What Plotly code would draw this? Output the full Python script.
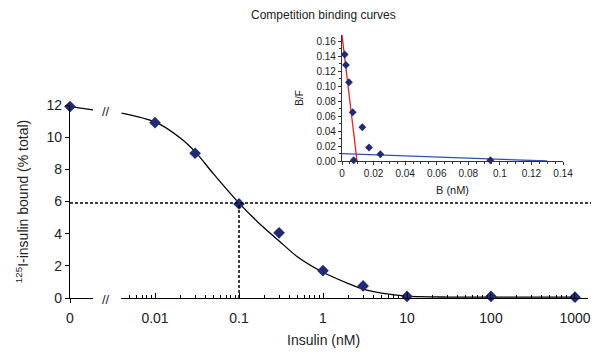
import plotly.graph_objects as go

# ---- main competition curve data ----
zero_x = [0]
zero_y = [11.9]
conc = [0.01, 0.03, 0.1, 0.3, 1, 3, 10, 100, 1000]
bound = [10.9, 9.0, 5.85, 4.05, 1.7, 0.75, 0.1, 0.1, 0.05]

# fitted curve
curve0_x = [0, 1]
curve0_y = [11.9, 11.7]
curve_x = [0.004, 0.01, 0.02, 0.03, 0.05, 0.1, 0.2, 0.3, 0.5, 1, 2, 3, 5, 10, 30, 100, 1000]
curve_y = [11.5, 10.95, 9.95, 9.1, 7.7, 5.9, 4.35, 3.55, 2.55, 1.6, 0.9, 0.55, 0.3, 0.12, 0.06, 0.05, 0.05]

ic50_y = 5.9
ic50_x = 0.1

xtick_vals = [0.01, 0.1, 1, 10, 100, 1000]
xtick_text = ["0.01", "0.1", "1", "10", "100", "1000"]
xminor_vals = [m * d for d in (0.001, 0.01, 0.1, 1, 10, 100, 1000) for m in range(2, 10)]
ytick_vals = [0, 2, 4, 6, 8, 10, 12]

# ---- Scatchard inset data ----
b_vals = [0.0017, 0.0025, 0.0044, 0.0068, 0.0074, 0.0129, 0.0171, 0.0243, 0.094]
bf_vals = [0.142, 0.128, 0.105, 0.065, 0.001, 0.045, 0.018, 0.009, 0.001]
red_x = [0, 0.0095]
red_y = [0.168, 0.0]
blue_x = [0, 0.13]
blue_y = [0.0098, 0.0]
inset_xticks = [0, 0.02, 0.04, 0.06, 0.08, 0.1, 0.12, 0.14]
inset_xtext = ["0", "0.02", "0.04", "0.06", "0.08", "0.1", "0.12", "0.14"]
inset_yticks = [0, 0.02, 0.04, 0.06, 0.08, 0.1, 0.12, 0.14, 0.16]

W, H = 594, 352
FONT = "Liberation Sans, Arial, sans-serif"
NAVY = "#232a75"

def px(x):
    return x / W

def py(y):
    return 1 - y / H

fig = go.Figure()

fig.add_trace(go.Scatter(x=curve0_x, y=curve0_y, mode="lines", xaxis="x", yaxis="y",
                         line=dict(color="black", width=1.3), hoverinfo="skip", showlegend=False))
fig.add_trace(go.Scatter(x=curve_x, y=curve_y, mode="lines", xaxis="x2", yaxis="y",
                         line=dict(color="black", width=1.3, shape="spline", smoothing=0.8),
                         hoverinfo="skip", showlegend=False))
fig.add_trace(go.Scatter(x=zero_x, y=zero_y, mode="markers", xaxis="x", yaxis="y",
                         marker=dict(symbol="diamond", size=9, color=NAVY), cliponaxis=False,
                         showlegend=False))
fig.add_trace(go.Scatter(x=conc, y=bound, mode="markers", xaxis="x2", yaxis="y",
                         marker=dict(symbol="diamond", size=9, color=NAVY), cliponaxis=False,
                         showlegend=False))

fig.add_trace(go.Scatter(x=blue_x, y=blue_y, mode="lines", xaxis="x3", yaxis="y3",
                         line=dict(color="#3050b0", width=1.3), showlegend=False))
fig.add_trace(go.Scatter(x=red_x, y=red_y, mode="lines", xaxis="x3", yaxis="y3",
                         line=dict(color="#e8201c", width=1.3), showlegend=False, cliponaxis=False))
fig.add_trace(go.Scatter(x=b_vals, y=bf_vals, mode="markers", xaxis="x3", yaxis="y3",
                         marker=dict(symbol="diamond", size=6, color=NAVY), cliponaxis=False,
                         showlegend=False))

x1_dom = [px(70), px(93)]
x2_dom = [px(121), px(588)]
y_dom = [py(298), py(105)]
x3_dom = [px(342), px(563)]
y3_dom = [py(161), py(35)]

tickfont = dict(family=FONT, size=14, color="#222")
fig.update_layout(
    width=W, height=H,
    margin=dict(l=0, r=0, t=0, b=0, autoexpand=False),
    paper_bgcolor="white", plot_bgcolor="rgba(0,0,0,0)",
    font=dict(family=FONT, color="#222"),
    xaxis=dict(domain=x1_dom, range=[0, 1], anchor="y", showline=True, linecolor="black",
               linewidth=1.2, tickvals=[0], ticktext=["0"], ticks="outside", ticklen=4,
               tickcolor="black", showgrid=False, zeroline=False, tickfont=tickfont,
               ticklabelstandoff=3, automargin=False),
    xaxis2=dict(domain=x2_dom, type="log", range=[-2.405, 3.155], anchor="y", showline=True,
                linecolor="black", linewidth=1.2, tickvals=xtick_vals, ticktext=xtick_text,
                ticks="inside", ticklen=5, tickcolor="black", showgrid=False, zeroline=False,
                tickfont=tickfont, ticklabelstandoff=7, automargin=False,
                minor=dict(ticks="inside", ticklen=3, tickvals=xminor_vals, tickcolor="black",
                           showgrid=False)),
    yaxis=dict(domain=y_dom, range=[0, 12], anchor="x", showline=True, linecolor="black",
               linewidth=1.2, tickvals=ytick_vals, ticks="outside", ticklen=4, tickcolor="black",
               showgrid=False, zeroline=False, tickfont=tickfont, automargin=False,
               title=dict(text="<sup>125</sup>I-insulin bound (% total)",
                          font=dict(family=FONT, size=14, color="#222"), standoff=14)),
    xaxis3=dict(domain=x3_dom, range=[0, 0.14], anchor="y3", showline=True, linecolor="#333",
                linewidth=1.2, tickvals=inset_xticks, ticktext=inset_xtext, tickangle=0,
                ticks="outside", ticklen=3, tickcolor="#333", showgrid=False, zeroline=False,
                tickfont=dict(family=FONT, size=10, color="#222"), automargin=False,
                minor=dict(ticks="outside", ticklen=2, dtick=0.005, tick0=0, tickcolor="#333",
                           showgrid=False),
                title=dict(text="B (nM)", font=dict(family=FONT, size=11, color="#222"), standoff=8)),
    yaxis3=dict(domain=y3_dom, range=[0, 0.168], anchor="x3", showline=True, linecolor="#333",
                linewidth=1.2, tickvals=inset_yticks, tickformat=".2f", ticks="outside", ticklen=3,
                tickcolor="#333", showgrid=False, zeroline=False, automargin=False,
                tickfont=dict(family=FONT, size=10, color="#222"),
                minor=dict(ticks="outside", ticklen=2, dtick=0.01, tick0=0, tickcolor="#333",
                           showgrid=False),
                title=dict(text="B/F", font=dict(family=FONT, size=10, color="#222"), standoff=10)),
)

fig.add_shape(type="line", xref="paper", yref="y", x0=px(70), x1=px(591), y0=ic50_y, y1=ic50_y,
              line=dict(color="black", width=1.5, dash="3px,2px"))
fig.add_shape(type="line", xref="x2", yref="y", x0=ic50_x, x1=ic50_x, y0=0, y1=ic50_y,
              line=dict(color="black", width=1.5, dash="3px,2px"))

for yy in (298, 111):
    fig.add_annotation(text="//", xref="paper", yref="paper", x=px(106), y=py(yy + 1),
                       showarrow=False, font=dict(family=FONT, size=13, color="#222"),
                       xanchor="center", yanchor="middle")

fig.add_annotation(text="Insulin (nM)", xref="paper", yref="paper", x=px(323), y=py(340),
                   showarrow=False, font=dict(family=FONT, size=14, color="#222"),
                   xanchor="center", yanchor="middle")
fig.add_annotation(text="Competition binding curves", xref="paper", yref="paper", x=px(323),
                   y=py(15), showarrow=False, font=dict(family=FONT, size=12, color="#222"),
                   xanchor="center", yanchor="middle")

fig.write_html("out.html", config={"displayModeBar": False},
               post_script="document.body.style.margin='0px';")
